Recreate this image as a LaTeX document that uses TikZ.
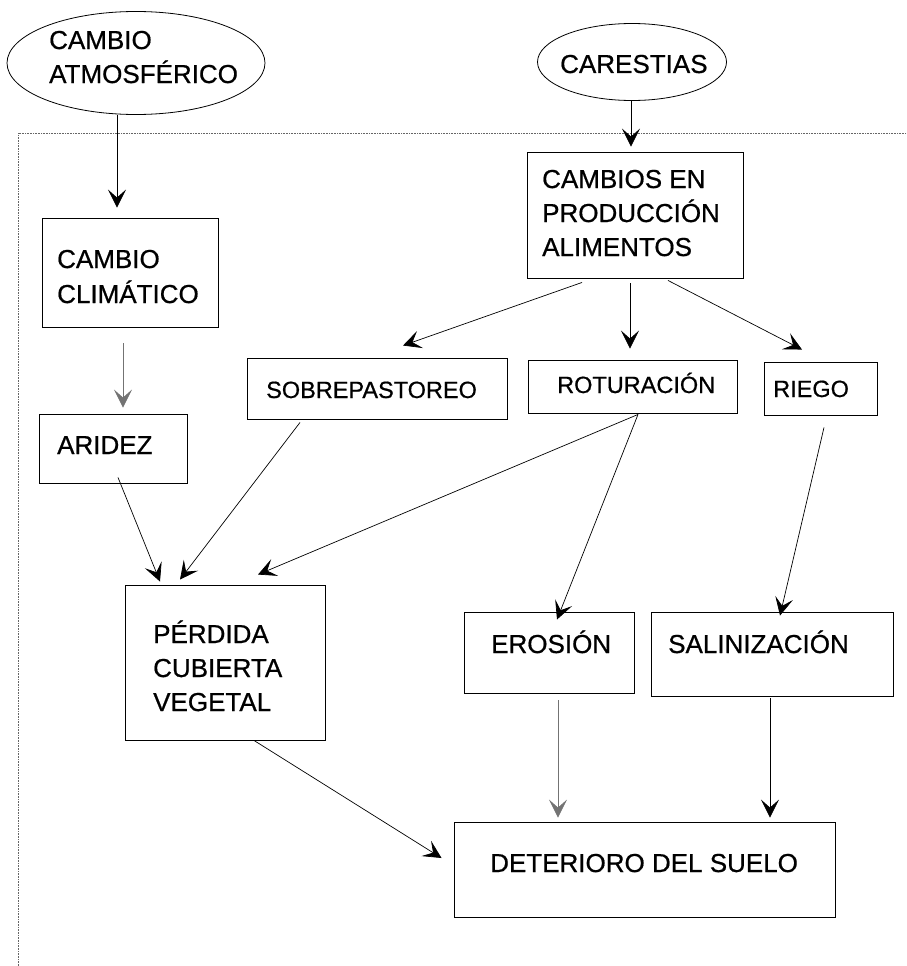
\documentclass[tikz,border=0pt]{standalone}
\usepackage{fontspec}
\setmainfont{Liberation Sans}[FakeBold=0.7]
\usetikzlibrary{arrows.meta,shapes.geometric}
\begin{document}
\begin{tikzpicture}[x=1pt,y=-1pt,
  box/.style={draw,line width=0.9pt,rectangle,inner sep=0pt},
  oval/.style={draw,line width=0.8pt,ellipse,inner sep=0pt},
  big/.style={anchor=base west,inner sep=0pt,font=\fontsize{26}{34}\selectfont},
  mid/.style={anchor=base west,inner sep=0pt,font=\fontsize{23.5}{30}\selectfont},
  conn/.style={line width=0.7pt,-{Stealth[length=18pt,width=18pt,inset=8pt]}},
  faint/.style={conn,draw=black!55},
  frame/.style={densely dotted,line width=0.6pt,draw=black!60}]
\useasboundingbox (0,0) rectangle (907,966);
% frame
\coordinate (f1) at (18,966);
\coordinate (f2) at (18,133);
\coordinate (f3) at (907,133);
\draw[frame] (f1) -- (f2) -- (f3);
% ellipses
\node[oval,minimum width=258pt,minimum height=103pt] (ea) at (136,63) {};
\node[oval,minimum width=189pt,minimum height=77pt] (ec) at (632,62) {};
% boxes
\node[box,minimum width=176pt,minimum height=109pt] (cc) at (130,272.5) {};
\node[box,minimum width=216pt,minimum height=126pt] (cpa) at (635,215) {};
\node[box,minimum width=260pt,minimum height=61pt] (sob) at (377,388.5) {};
\node[box,minimum width=209pt,minimum height=53pt] (rot) at (632.5,386.5) {};
\node[box,minimum width=113pt,minimum height=53pt] (rie) at (820.5,388.5) {};
\node[box,minimum width=148pt,minimum height=69pt] (ari) at (113,448.5) {};
\node[box,minimum width=200pt,minimum height=155pt] (per) at (225,662.5) {};
\node[box,minimum width=170pt,minimum height=81pt] (ero) at (549,652.5) {};
\node[box,minimum width=242pt,minimum height=84pt] (sal) at (772,654) {};
\node[box,minimum width=381pt,minimum height=95pt] (det) at (644.5,869.5) {};
% texts
\node[big] (t1a) at (49,49) {CAMBIO};
\node[big] (t1b) at (49,83) {ATMOSFÉRICO};
\node[big] (t2) at (560,73) {CARESTIAS};
\node[big] (t3a) at (57,268) {CAMBIO};
\node[big] (t3b) at (57,303) {CLIMÁTICO};
\node[big] (t4a) at (542,188) {CAMBIOS EN};
\node[big] (t4b) at (542,222) {PRODUCCIÓN};
\node[big] (t4c) at (542,256) {ALIMENTOS};
\node[mid] (t5) at (266,398) {SOBREPASTOREO};
\node[mid] (t6) at (557,393) {ROTURACIÓN};
\node[mid] (t7) at (773,397) {RIEGO};
\node[big] (t8) at (57,454) {ARIDEZ};
\node[big] (t9a) at (153,643) {PÉRDIDA};
\node[big] (t9b) at (153,677) {CUBIERTA};
\node[big] (t9c) at (153,711) {VEGETAL};
\node[big] (t10) at (491,653) {EROSIÓN};
\node[big] (t11) at (668,653) {SALINIZACIÓN};
\node[big] (t12) at (490,872) {DETERIORO DEL SUELO};
% connectors
\draw[conn] ([xshift=-19pt]ea.south) -- ([xshift=-13pt,yshift=10pt]cc.north);
\draw[conn] ([xshift=-1pt]ec.south) -- ([xshift=-4pt,yshift=5pt]cpa.north);
\draw[conn] ([xshift=-53pt,yshift=-4pt]cpa.south) -- ([xshift=26pt,yshift=12pt]sob.north);
\draw[conn] ([xshift=-5pt,yshift=-5pt]cpa.south) -- ([xshift=-2.5pt,yshift=11pt]rot.north);
\draw[conn] ([xshift=33pt,yshift=-2pt]cpa.south) -- ([xshift=-18.5pt,yshift=12pt]rie.north);
\draw[faint] ([xshift=-7pt,yshift=-16pt]cc.south) -- ([xshift=10pt,yshift=6pt]ari.north);
\draw[conn] ([xshift=5pt,yshift=6pt]ari.south) -- ([xshift=-65pt,yshift=3pt]per.north);
\draw[conn] ([xshift=-77pt,yshift=-3pt]sob.south) -- ([xshift=-45pt,yshift=5pt]per.north);
\draw[conn] ([xshift=5.5pt,yshift=-1pt]rot.south) -- ([xshift=33pt,yshift=10pt]per.north);
\draw[conn] ([xshift=5.5pt,yshift=-1pt]rot.south) -- ([xshift=8pt,yshift=-8pt]ero.north);
\draw[conn] ([xshift=3.5pt,yshift=-12pt]rie.south) -- ([xshift=8pt,yshift=-4pt]sal.north);
\draw[faint] ([xshift=9pt,yshift=-7pt]ero.south) -- ([xshift=-86.5pt,yshift=4pt]det.north);
\draw[conn] ([xshift=-2pt,yshift=-2pt]sal.south) -- ([xshift=125.5pt,yshift=4pt]det.north);
\draw[conn] ([xshift=29pt]per.south) -- ([xshift=-12pt,yshift=11.5pt]det.west);
\end{tikzpicture}
\end{document}
